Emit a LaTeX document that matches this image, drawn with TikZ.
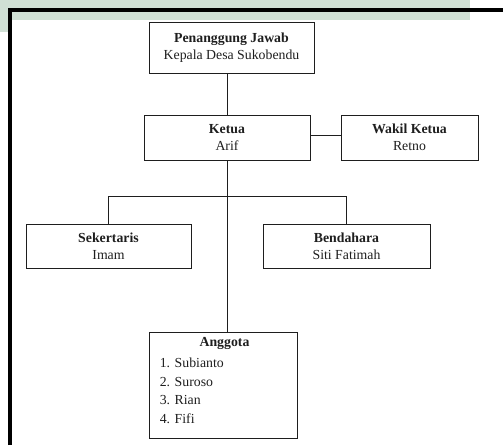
\documentclass[tikz,border=0pt]{standalone}
\usepackage{fontspec}
\setmainfont{Liberation Serif}
\definecolor{wm}{RGB}{208,224,213}
\definecolor{ink}{RGB}{30,30,30}
\begin{document}
\begin{tikzpicture}[x=1pt,y=-1pt,
  box/.style={draw=ink, line width=0.9pt, rectangle, align=center, inner sep=0pt,
    font=\fontsize{13.8}{17}\selectfont, text=ink},
  conn/.style={draw=ink, line width=1pt},
  frame/.style={draw=black, line width=4pt}]
\useasboundingbox (0,0) rectangle (503,445);
\fill[wm] (0,0) rectangle (470,20);
\fill[wm] (0,0) rectangle (8,32);
\coordinate (fr1) at (10,445);
\coordinate (fr2) at (10,10);
\coordinate (fr3) at (503,10);
\draw[frame] (fr1) -- (fr2) -- (fr3);

\node[box, minimum width=165, minimum height=51] (pj) at (231.5,47.5)
  {\textbf{Penanggung Jawab}\\Kepala Desa Sukobendu};
\node[box, minimum width=166, minimum height=45] (ketua) at (227,137.5)
  {\textbf{Ketua}\\Arif};
\node[box, minimum width=137, minimum height=45] (wakil) at (409.5,137.5)
  {\textbf{Wakil Ketua}\\Retno};
\node[box, minimum width=165, minimum height=44] (sek) at (108.5,246)
  {\textbf{Sekertaris}\\Imam};
\node[box, minimum width=167, minimum height=44] (ben) at (346.5,246)
  {\textbf{Bendahara}\\Siti Fatimah};
\node[box, minimum width=148, minimum height=106] (ang) at (223,385) {};
\node[font=\fontsize{13.8}{17}\selectfont\bfseries, text=ink, inner sep=0pt] (angt)
  at ([xshift=1.5,yshift=-12]ang.north) {Anggota};
\node[anchor=north west, align=left, inner sep=0pt, text=ink,
  font=\fontsize{13.8}{18.7}\selectfont] (angl)
  at ([xshift=11,yshift=-26]ang.north west) {1. Subianto\\2. Suroso\\3. Rian\\4. Fifi};

\coordinate (bar) at (227,196);
\draw[conn] (ketua.north) -- (ketua.north |- pj.south);
\draw[conn] (ketua.east |- 0,135) -- (wakil.west |- 0,135);
\draw[conn] (ketua.south) -- (ketua.south |- ang.north);
\draw[conn] (sek.north) -- (sek.north |- bar) -- (ben.north |- bar) -- (ben.north);
\end{tikzpicture}
\end{document}
